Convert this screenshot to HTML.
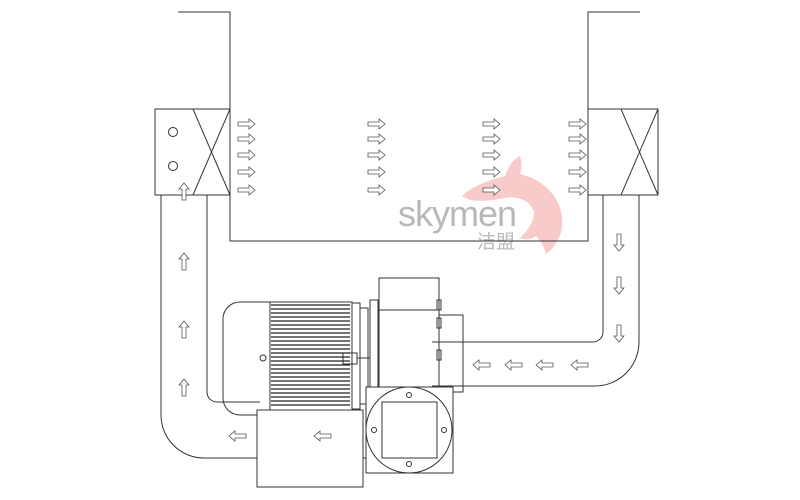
<!DOCTYPE html>
<html><head><meta charset="utf-8"><style>html,body{margin:0;padding:0;background:#fff}svg{display:block}</style></head>
<body>
<svg width="800" height="500" viewBox="0 0 800 500" xmlns="http://www.w3.org/2000/svg">
<defs>
<g id="ar"><path d="M0,-2 H11 V-5 L17,0 L11,5 V2 H0 Z" fill="#fff" stroke="#555" stroke-width="0.8"/></g>
</defs>
<!-- logo -->
<path d="M462,196 C472,186 490,180 505,176 C508,168 512,160 520,156 C522,162 522,168 520,174 C545,180 565,200 562,228 C560,240 552,250 546,254 C544,246 540,240 536,236 C530,240 524,240 520,238 C528,230 534,222 534,212 C530,200 518,196 505,198 C495,200 480,202 470,200 Z" fill="#f7c4c4" opacity="0.9"/>
<text x="398" y="226" font-family="Liberation Sans, sans-serif" font-size="36" fill="#b8b8b8" letter-spacing="-1">skymen</text>
<text x="477" y="248" font-family="Liberation Sans, 'Noto Sans CJK SC', sans-serif" font-size="19" fill="#bbb">洁盟</text>
<g fill="none" stroke="#333" stroke-width="1">
<!-- chamber -->
<path d="M178,12 H230 V241 H588 V12 H640"/>
<!-- left box -->
<rect x="155" y="109" width="75" height="86"/>
<path d="M193,109 L230,195 M230,109 L193,195"/>
<circle cx="173" cy="132" r="4.5"/><circle cx="173" cy="166" r="4.5"/>
<!-- right box -->
<rect x="588" y="109" width="70" height="86"/>
<path d="M621,109 L658,195 M658,109 L621,195"/>
<!-- left duct -->
<path d="M161,195 V415 A43,43 0 0 0 204,458 H367"/>
<path d="M207,195 V392 A10,10 0 0 0 217,402 H260"/>
<!-- right duct -->
<path d="M603,195 V332 A10,10 0 0 1 593,342 H432"/>
<path d="M639,195 V342 A44,44 0 0 1 595,386 H432"/>
<!-- motor end cap -->
<path d="M270,302 H240 A17,17 0 0 0 223,319 V398 A17,17 0 0 0 240,415 H270 Z"/>
<circle cx="263" cy="358" r="3"/>
<rect x="270" y="302" width="82" height="108"/>
<rect x="352" y="303" width="8" height="106"/>
<rect x="360" y="308" width="8" height="96"/>
<rect x="370" y="300" width="8" height="88"/>
<rect x="343" y="353" width="14" height="11"/>
<path d="M357,358 H370"/>
<!-- fan housing -->
<rect x="379" y="278" width="60" height="110"/>
<path d="M379,310 H439"/>
<rect x="439" y="315" width="24" height="77"/>
<rect x="437" y="300" width="4" height="10"/><rect x="437" y="318" width="4" height="10"/><rect x="437" y="350" width="4" height="10"/>
<!-- square plate -->
<rect x="366" y="387" width="87" height="86" fill="#fff"/>
<circle cx="409" cy="430" r="43"/>
<rect x="382" y="402" width="55" height="56"/>
<circle cx="409" cy="395" r="2.5"/><circle cx="409" cy="464" r="2.5"/><circle cx="374" cy="430" r="2.5"/><circle cx="444" cy="430" r="2.5"/>
<!-- bottom box -->
<rect x="257" y="410" width="106" height="77" fill="#fff"/>
</g>
<!-- fins -->
<g stroke="#222" stroke-width="1.3">
<path d="M271,305H350M271,309H350M271,313H350M271,317H350M271,321H350M271,325H350M271,329H350M271,333H350M271,337H350M271,341H350M271,345H350M271,349H350M271,353H350M271,357H350M271,361H350M271,365H350M271,369H350M271,373H350M271,377H350M271,381H350M271,385H350M271,389H350M271,393H350M271,397H350M271,401H350M271,405H350"/>
</g>
<!-- right arrows -->
<g>
<use href="#ar" x="238" y="124"/><use href="#ar" x="238" y="139"/><use href="#ar" x="238" y="155"/><use href="#ar" x="238" y="172"/><use href="#ar" x="238" y="190"/>
<use href="#ar" x="368" y="124"/><use href="#ar" x="368" y="139"/><use href="#ar" x="368" y="155"/><use href="#ar" x="368" y="172"/><use href="#ar" x="368" y="190"/>
<use href="#ar" x="483" y="124"/><use href="#ar" x="483" y="139"/><use href="#ar" x="483" y="155"/><use href="#ar" x="483" y="172"/><use href="#ar" x="483" y="190"/>
<use href="#ar" x="569" y="124"/><use href="#ar" x="569" y="139"/><use href="#ar" x="569" y="155"/><use href="#ar" x="569" y="172"/><use href="#ar" x="569" y="190"/>
</g>
<!-- up arrows -->
<g>
<use href="#ar" transform="translate(184,200) rotate(-90)"/>
<use href="#ar" transform="translate(184,270) rotate(-90)"/>
<use href="#ar" transform="translate(184,338) rotate(-90)"/>
<use href="#ar" transform="translate(184,396) rotate(-90)"/>
</g>
<!-- down arrows -->
<g>
<use href="#ar" transform="translate(619,234) rotate(90)"/>
<use href="#ar" transform="translate(619,277) rotate(90)"/>
<use href="#ar" transform="translate(619,325) rotate(90)"/>
</g>
<!-- left arrows -->
<g>
<use href="#ar" transform="translate(490,365) rotate(180)"/>
<use href="#ar" transform="translate(522,365) rotate(180)"/>
<use href="#ar" transform="translate(553,365) rotate(180)"/>
<use href="#ar" transform="translate(588,365) rotate(180)"/>
<use href="#ar" transform="translate(246,436) rotate(180)"/>
<use href="#ar" transform="translate(331,436) rotate(180)"/>
</g>
</svg>
</body></html>
